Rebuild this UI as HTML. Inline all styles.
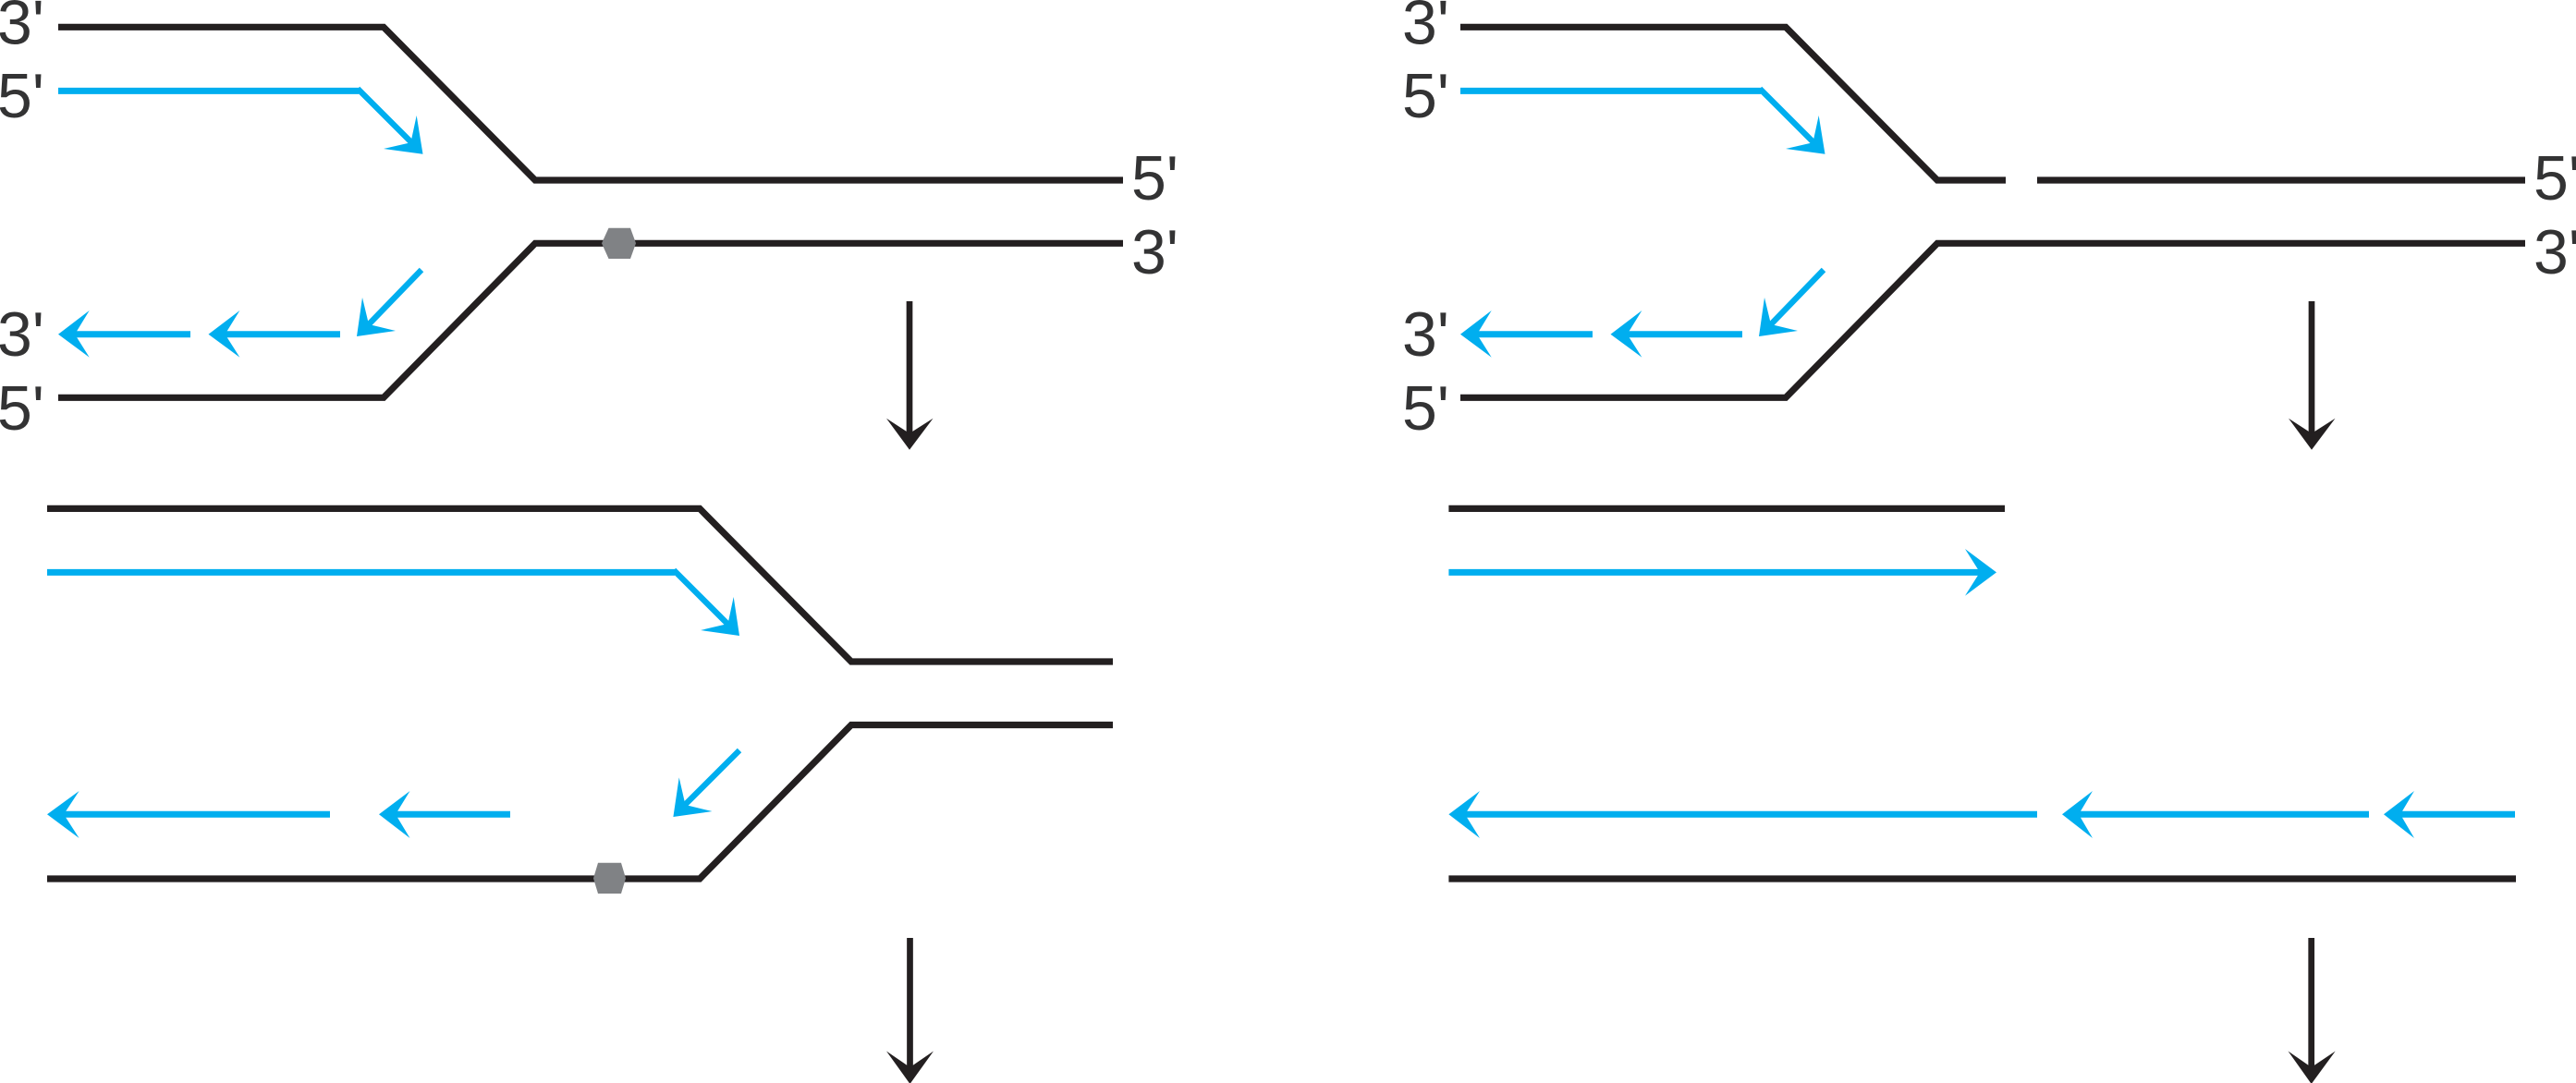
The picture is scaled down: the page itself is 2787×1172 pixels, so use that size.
<!DOCTYPE html>
<html>
<head>
<meta charset="utf-8">
<style>
html,body{margin:0;padding:0;background:#fff;width:2787px;height:1172px;overflow:hidden}
svg{display:block}
text{font-family:"Liberation Sans",Arial,sans-serif;font-size:68px;fill:#333334}
.k{fill:none;stroke:#231f20;stroke-width:7.2;stroke-linejoin:miter}
.b{fill:none;stroke:#00aeef;stroke-width:7;stroke-linejoin:miter}
.d{fill:none;stroke:#00aeef;stroke-width:6.3}
.bf{fill:#00aeef}
.kf{fill:#231f20}
.g{fill:#808285}
.a{fill:none;stroke:#231f20;stroke-width:6.7}
</style>
</head>
<body>
<svg width="2787" height="1172" viewBox="0 0 2787 1172" xmlns="http://www.w3.org/2000/svg">
<rect width="2787" height="1172" fill="#fff"/>

<!-- LEFT TOP PANEL -->
<polyline class="k" points="63,29.3 415,29.3 579,195 1215,195"/>
<polyline class="k" points="63,430.3 415,430.3 579,263.3 1215,263.3"/>
<polygon class="g" points="651,263.3 658.5,246.7 682,246.7 688,263.3 682,280 658.5,280"/>
<polyline class="b" points="63,98.4 388,98.4"/>
<line class="d" x1="387" y1="96" x2="447" y2="156"/>
<polygon class="bf" points="457.5,166.7 450.7,125 444.4,154.2 415,161"/>
<line class="d" x1="456" y1="292" x2="398" y2="352"/>
<polygon class="bf" points="386,364 392,322 399,351 428,358"/>
<line class="b" x1="206" y1="361.7" x2="78" y2="361.7"/>
<polygon class="bf" points="63,361.7 96.7,336 81,361.7 96.7,386.7"/>
<line class="b" x1="368" y1="361.7" x2="241" y2="361.7"/>
<polygon class="bf" points="225.5,361.7 259.4,336 243.5,361.7 259.4,386.7"/>
<text x="-3" y="47.5">3'</text>
<text x="-3" y="127">5'</text>
<text x="-3" y="385">3'</text>
<text x="-3" y="465">5'</text>
<text x="1224" y="216">5'</text>
<text x="1224" y="296">3'</text>
<line class="a" x1="984" y1="326" x2="984" y2="474"/>
<polygon class="kf" points="984,486.7 959,452.7 984,469 1009.5,452.7"/>

<!-- LEFT MIDDLE PANEL -->
<polyline class="k" points="51,550.4 757,550.4 921,716 1204,716"/>
<polyline class="k" points="51,951 757,951 921,784.5 1204,784.5"/>
<polygon class="g" points="642,950.5 647,933.7 672,933.7 677,950.5 672,967 647,967"/>
<polyline class="b" points="51,619.4 730,619.4"/>
<line class="d" x1="729" y1="617" x2="790" y2="678"/>
<polygon class="bf" points="800,688 793.7,646 787.5,675 758,682"/>
<line class="d" x1="800" y1="812" x2="740" y2="872"/>
<polygon class="bf" points="728.4,884 734.7,841.4 741.5,871 770.5,878"/>
<line class="b" x1="357" y1="881.3" x2="66" y2="881.3"/>
<polygon class="bf" points="51,881.3 85.6,856 69,881.3 85.6,907"/>
<line class="b" x1="552" y1="881.3" x2="425" y2="881.3"/>
<polygon class="bf" points="410,881.3 443.5,856 428,881.3 443.5,907"/>
<line class="a" x1="984.5" y1="1015" x2="984.5" y2="1160"/>
<polygon class="kf" points="984.5,1173 959,1137.5 984.5,1155 1010,1137.5"/>

<!-- RIGHT TOP PANEL -->
<polyline class="k" points="1580,29.3 1932,29.3 2096,195 2170,195"/>
<line class="k" x1="2204" y1="195" x2="2732" y2="195"/>
<polyline class="k" points="1580,430.3 1932,430.3 2096,263.3 2732,263.3"/>
<polyline class="b" points="1580,98.4 1905,98.4"/>
<line class="d" x1="1904" y1="96" x2="1964" y2="156"/>
<polygon class="bf" points="1974.5,166.7 1967.7,125 1961.4,154.2 1932,161"/>
<line class="d" x1="1973" y1="292" x2="1915" y2="352"/>
<polygon class="bf" points="1903,364 1909,322 1916,351 1945,358"/>
<line class="b" x1="1723" y1="361.7" x2="1595" y2="361.7"/>
<polygon class="bf" points="1580,361.7 1613.7,336 1598,361.7 1613.7,386.7"/>
<line class="b" x1="1885" y1="361.7" x2="1758" y2="361.7"/>
<polygon class="bf" points="1742.5,361.7 1776.4,336 1760.5,361.7 1776.4,386.7"/>
<text x="1517" y="47.5">3'</text>
<text x="1517" y="127">5'</text>
<text x="1517" y="385">3'</text>
<text x="1517" y="465">5'</text>
<text x="2741" y="216">5'</text>
<text x="2741" y="296">3'</text>
<line class="a" x1="2501" y1="326" x2="2501" y2="474"/>
<polygon class="kf" points="2501,486.7 2476,452.7 2501,469 2526.5,452.7"/>

<!-- RIGHT MIDDLE PANEL -->
<line class="k" x1="1567.4" y1="550.4" x2="2169" y2="550.4"/>
<line class="k" x1="1567.4" y1="951" x2="2722" y2="951"/>
<line class="b" x1="1567.4" y1="619.4" x2="2146" y2="619.4"/>
<polygon class="bf" points="2160,619.4 2126,594 2142,619.4 2126,644.7"/>
<line class="b" x1="2204" y1="881.3" x2="1582" y2="881.3"/>
<polygon class="bf" points="1567.4,881.3 1601,856 1585,881.3 1601,907"/>
<line class="b" x1="2563" y1="881.3" x2="2246" y2="881.3"/>
<polygon class="bf" points="2231,881.3 2264,856 2249,881.3 2264,907"/>
<line class="b" x1="2721" y1="881.3" x2="2594" y2="881.3"/>
<polygon class="bf" points="2579,881.3 2612,856 2597,881.3 2612,907"/>
<line class="a" x1="2500.7" y1="1015" x2="2500.7" y2="1160"/>
<polygon class="kf" points="2500.7,1173 2475.5,1137.5 2500.7,1155 2526.7,1137.5"/>
</svg>
</body>
</html>
